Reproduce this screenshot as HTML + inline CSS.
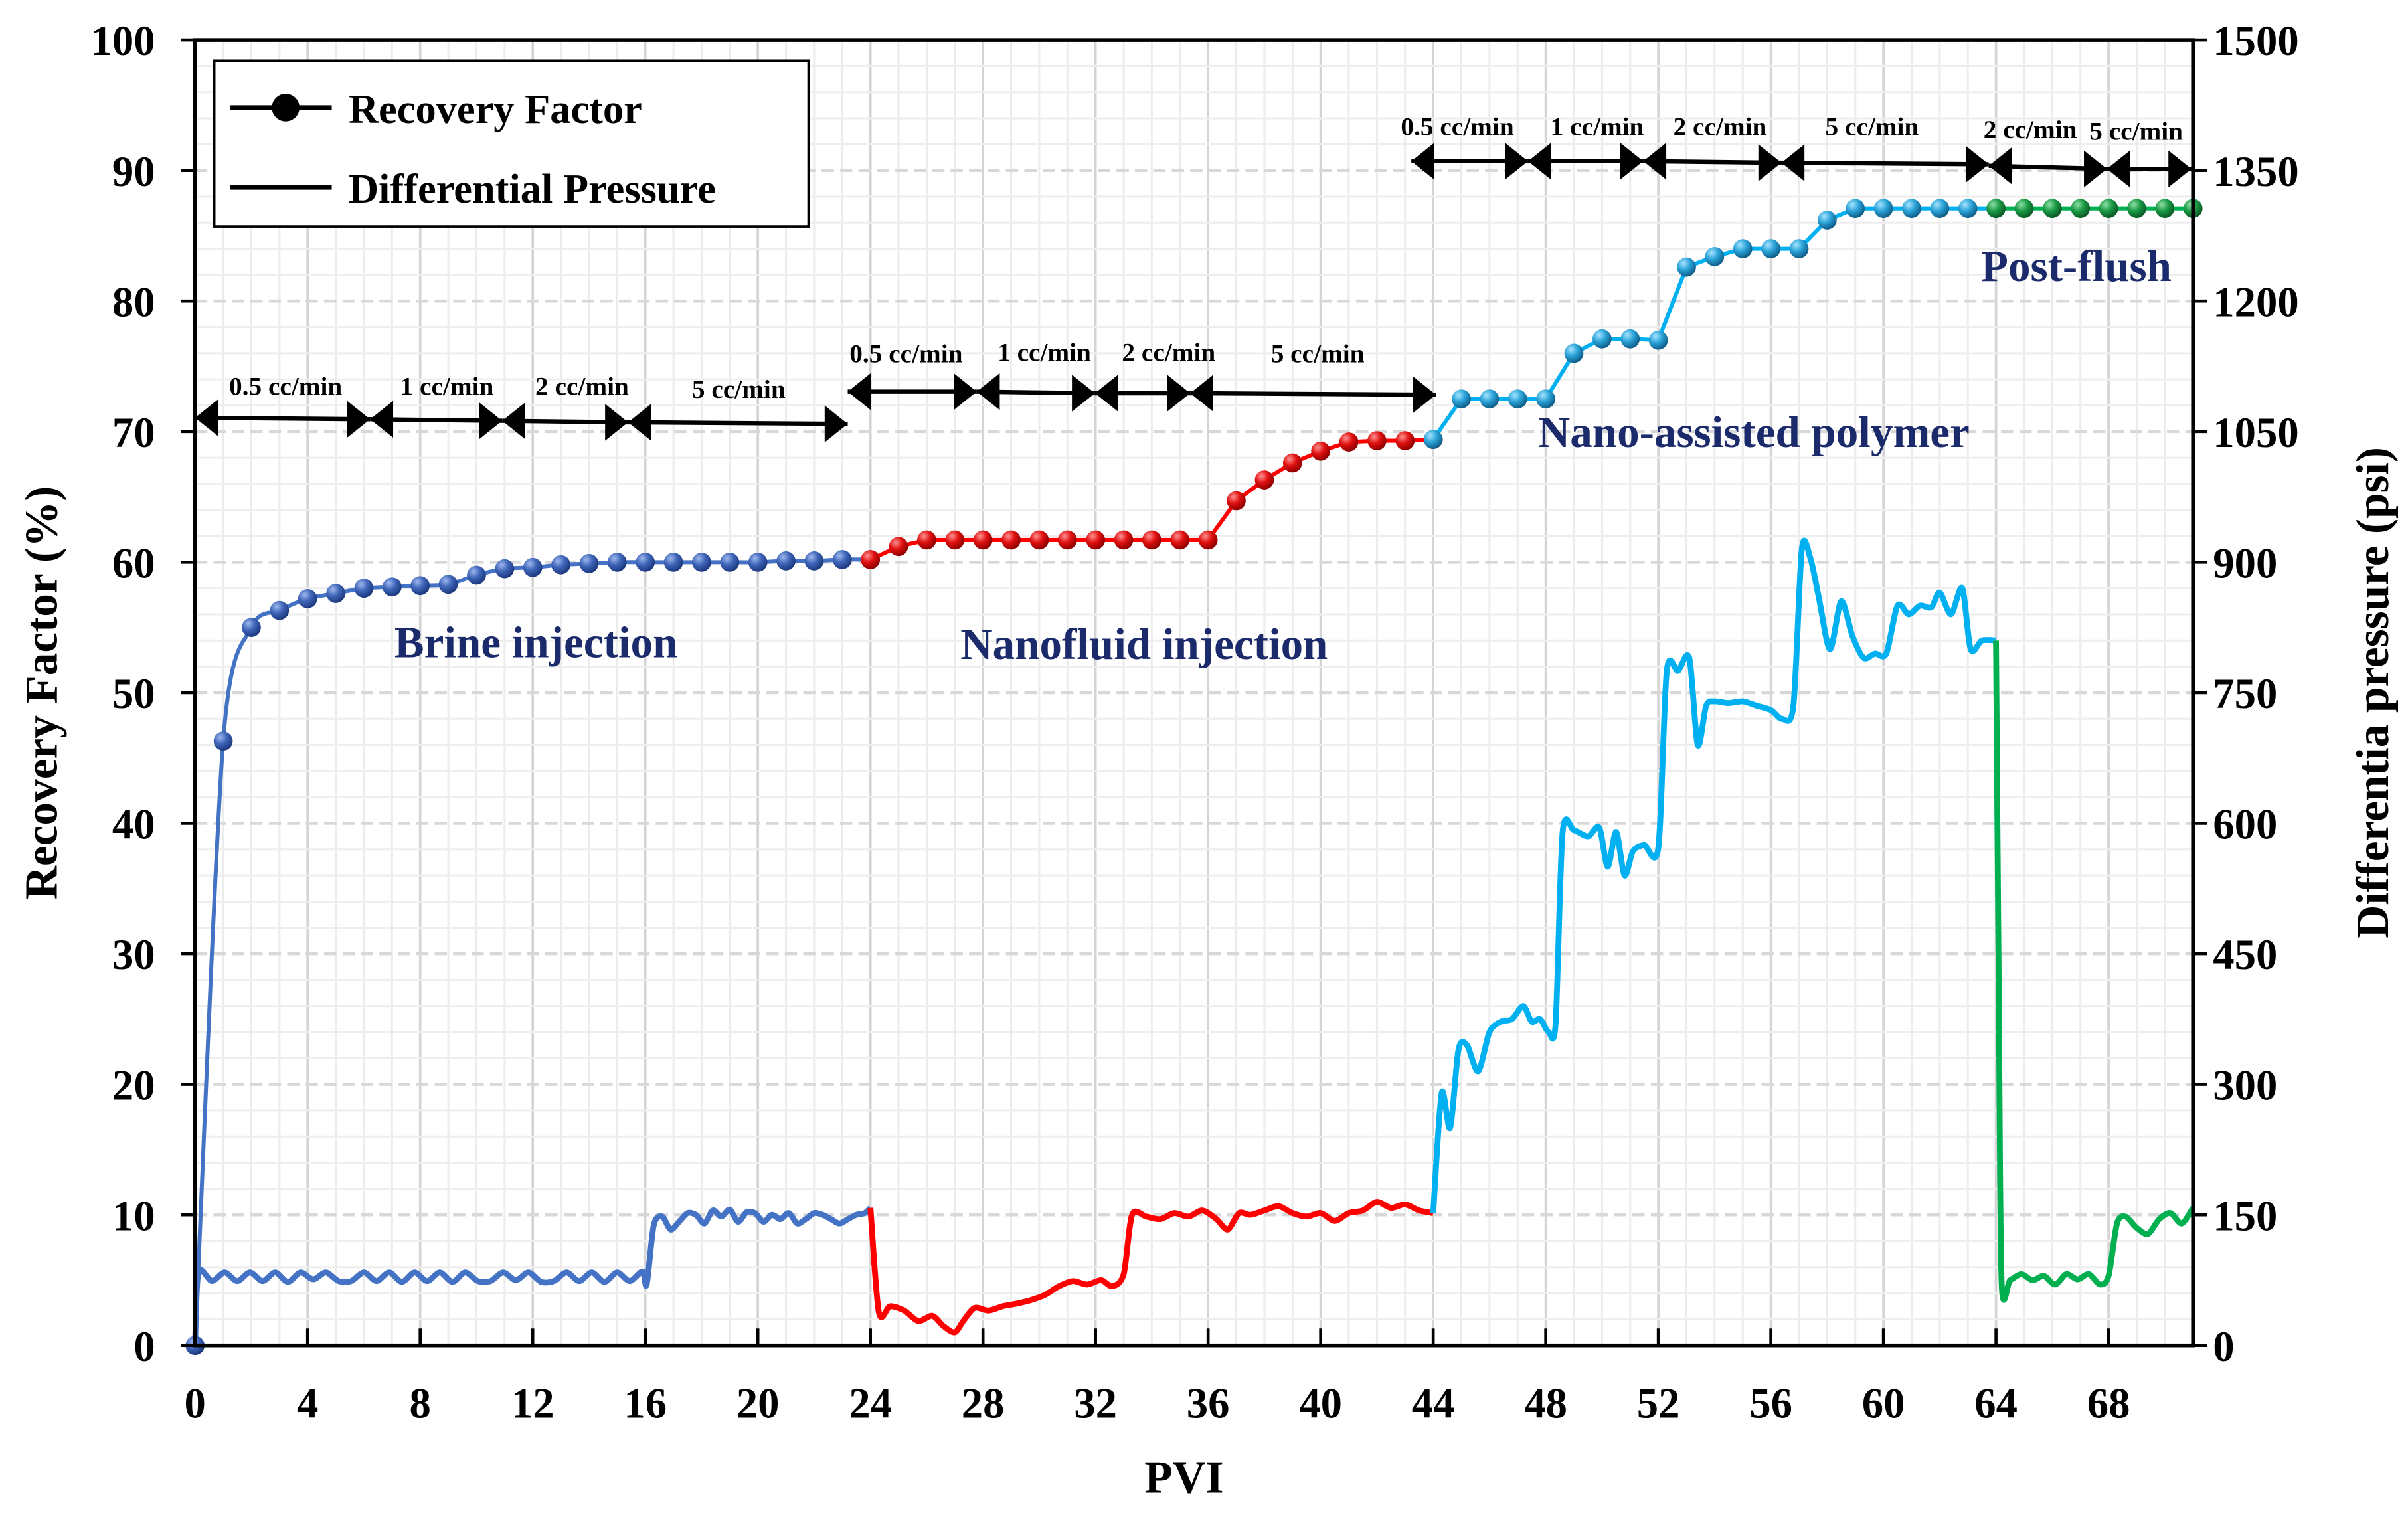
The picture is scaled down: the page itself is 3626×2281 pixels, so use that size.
<!DOCTYPE html>
<html><head><meta charset="utf-8"><style>
html,body{margin:0;padding:0;background:#fff;}
svg{display:block;font-family:"Liberation Serif",serif;font-weight:bold;}
</style></head><body>
<svg id="chart" width="3626" height="2281" viewBox="0 0 1568 986.4" xmlns="http://www.w3.org/2000/svg">
<defs>
<radialGradient id="gBlue" cx="35%" cy="30%" r="70%"><stop offset="0" stop-color="#9db8ee"/><stop offset="0.5" stop-color="#3f64b8"/><stop offset="1" stop-color="#1d3a80"/></radialGradient>
<radialGradient id="gRed" cx="35%" cy="30%" r="70%"><stop offset="0" stop-color="#ff9090"/><stop offset="0.5" stop-color="#e01010"/><stop offset="1" stop-color="#900000"/></radialGradient>
<radialGradient id="gCyan" cx="35%" cy="30%" r="70%"><stop offset="0" stop-color="#a6e4ff"/><stop offset="0.5" stop-color="#2aa3d8"/><stop offset="1" stop-color="#0f5f8a"/></radialGradient>
<radialGradient id="gGreen" cx="35%" cy="30%" r="70%"><stop offset="0" stop-color="#8fe0a5"/><stop offset="0.5" stop-color="#1a9a45"/><stop offset="1" stop-color="#0b5a25"/></radialGradient>
</defs>
<g id="grid"></g>
<g id="series"></g>
<g id="axes"></g>
<g id="annot"></g>
</svg>
<script>
// ---- data ----
const rfBrineX = [0,1,2,3,4,5,6,7,8,9,10,11,12,13,14,15,16,17,18,19,20,21,22,23,24];
const rfBrineY = [0,46.3,55,56.3,57.2,57.6,58,58.1,58.2,58.3,59,59.5,59.6,59.8,59.9,60,60,60,60,60,60,60.1,60.1,60.2,60.2];
const rfNanoX = [24,25,26,27,28,29,30,31,32,33,34,35,36,37,38,39,40,41,42,43,44];
const rfNanoY = [60.2,61.2,61.7,61.7,61.7,61.7,61.7,61.7,61.7,61.7,61.7,61.7,61.7,64.7,66.3,67.6,68.5,69.2,69.3,69.3,69.4];
const rfPolyX = [44,45,46,47,48,49,50,51,52,53,54,55,56,57,58,59,60,61,62,63,64];
const rfPolyY = [69.4,72.5,72.5,72.5,72.5,76,77.1,77.1,77,82.6,83.4,84,84,84,86.2,87.1,87.1,87.1,87.1,87.1,87.1];
const rfPostX = [64,65,66,67,68,69,70,71];
const rfPostY = [87.1,87.1,87.1,87.1,87.1,87.1,87.1,87.1];

const dpBrineX = [0,0.12,0.6,1.05,1.5,1.95,2.4,2.85,3.3,3.75,4.2,4.65,5.1,5.55,6,6.45,6.9,7.35,7.8,8.25,8.7,9.15,9.6,10.05,10.5,10.95,11.4,11.85,12.3,12.75,13.2,13.65,14.1,14.55,15,15.45,15.9,16.05,16.3,16.6,16.9,17.2,17.5,17.8,18.1,18.4,18.7,19,19.3,19.6,19.9,20.2,20.5,20.8,21.1,21.4,21.7,22,22.3,22.6,22.9,23.2,23.5,23.8,24];
const dpBrineY = [0,84,74,84,74,84,74,84,73,84,76,84,74,74,84,74,84,73,84,74,84,73,84,74,74,84,75,84,73,74,84,74,84,73,84,74,85,70,138,148,133,142,152,150,140,155,148,156,142,153,152,142,150,145,152,140,145,152,150,145,140,145,150,152,158];
const dpNanoX = [24,24.3,24.7,25.2,25.7,26.2,26.6,27,27.3,27.7,28.2,28.7,29.2,29.7,30.2,30.7,31.2,31.7,32.2,32.6,33,33.3,33.8,34.3,34.8,35.3,35.8,36.3,36.7,37.1,37.5,38,38.5,39,39.5,40,40.5,41,41.5,42,42.5,43,43.5,44];
const dpNanoY = [158,38,45,40,28,34,22,15,28,43,40,45,48,52,58,68,74,70,75,68,82,150,148,145,152,148,155,145,133,152,150,155,160,152,148,152,143,152,155,165,158,162,155,152];
const dpPolyX = [44,44.3,44.6,44.9,45.2,45.6,46,46.4,46.8,47.2,47.5,47.8,48.1,48.35,48.6,49,49.5,49.9,50.2,50.5,50.8,51.1,51.5,52,52.3,52.7,53.1,53.4,53.7,54,54.5,55,55.5,56,56.4,56.8,57.1,57.4,57.7,58.1,58.5,58.9,59.3,59.7,60.1,60.5,60.9,61.3,61.7,62,62.4,62.8,63.1,63.5,64];
const dpPolyY = [152,290,250,340,345,315,360,372,375,390,372,375,360,370,590,592,585,595,550,590,540,568,575,572,775,775,790,690,735,740,738,740,735,730,720,735,915,905,860,800,855,815,790,795,795,850,840,850,848,865,840,870,800,810,810];
const dpPostX = [64,64.1,64.2,64.5,64.9,65.3,65.7,66.1,66.5,66.9,67.3,67.7,68,68.3,68.6,69,69.4,69.8,70.2,70.6,71];
const dpPostY = [810,400,72,75,82,75,80,70,82,76,82,70,80,140,148,135,128,145,152,140,158];

const xTicks = [0,4,8,12,16,20,24,28,32,36,40,44,48,52,56,60,64,68];
const yLeftTicks = [0,10,20,30,40,50,60,70,80,90,100];
const yRightTicks = [0,150,300,450,600,750,900,1050,1200,1350,1500];

// ---- scales ----
const X0=127, X1=1428, Y0=876, Y1=26, XMAX=71;
const sx = v => X0 + v*(X1-X0)/XMAX;
const syL = v => Y0 - v*(Y0-Y1)/100;
const syR = v => Y0 - v*(Y0-Y1)/1500;
const NS="http://www.w3.org/2000/svg";
function mk(tag, attrs, parent){const e=document.createElementNS(NS,tag);for(const k in attrs)e.setAttribute(k,attrs[k]);parent.appendChild(e);return e;}
const grid=document.getElementById('grid'), series=document.getElementById('series'), axes=document.getElementById('axes'), annot=document.getElementById('annot');

for(let v=1; v<XMAX; v++){
  const major = v%4===0;
  const l=mk('line',{x1:sx(v),x2:sx(v),y1:Y1,y2:Y0,stroke:major?'#d4d4d4':'#ececec','stroke-width':major?1.6:1.3},grid);
  
  
}
for(let v=2; v<100; v+=2){
  const major = v%10===0;
  const l=mk('line',{x1:X0,x2:X1,y1:syL(v),y2:syL(v),stroke:major?'#d8d8d8':'#eeeeee','stroke-width':major?2:1.3,'stroke-dasharray':major?'8,4':''},grid);
  
  
}

function smooth(xs, ys, sy){
  const p=xs.map((x,i)=>[sx(x),sy(ys[i])]);
  let d=`M${p[0][0]},${p[0][1]}`;
  for(let i=0;i<p.length-1;i++){
    const a=p[Math.max(0,i-1)], b=p[i], c=p[i+1], e=p[Math.min(p.length-1,i+2)];
    const t=0.14;
    d+=` C${b[0]+(c[0]-a[0])*t},${b[1]+(c[1]-a[1])*t} ${c[0]-(e[0]-b[0])*t},${c[1]-(e[1]-b[1])*t} ${c[0]},${c[1]}`;
  }
  return d;
}
function dpLine(xs,ys,color,name){
  const p=mk('path',{d:smooth(xs,ys,syR),fill:'none',stroke:color,'stroke-width':3.8,'stroke-linejoin':'round'},series);
  
  
}
dpLine(dpBrineX,dpBrineY,'#4472c4','pressure-line-brine');
dpLine(dpNanoX,dpNanoY,'#ff0000','pressure-line-nanofluid');
dpLine(dpPolyX,dpPolyY,'#00b0f0','pressure-line-polymer');
dpLine(dpPostX,dpPostY,'#00b050','pressure-line-postflush');

function rfSeries(xs,ys,color,grad,name,smoothIt){
  const d = smoothIt ? smooth(xs,ys,syL) : 'M'+xs.map((x,i)=>sx(x)+','+syL(ys[i])).join(' L');
  const p=mk('path',{d:d,fill:'none',stroke:color,'stroke-width':2.6},series);
  
  
  xs.forEach((x,i)=>{
    const c=mk('circle',{cx:sx(x),cy:syL(ys[i]),r:6.2,fill:'url(#'+grad+')'},series);
    
    
  });
}
rfSeries(rfBrineX,rfBrineY,'#4472c4','gBlue','rf-brine',true);
rfSeries(rfNanoX,rfNanoY,'#ff0000','gRed','rf-nanofluid',false);
rfSeries(rfPolyX,rfPolyY,'#00b0f0','gCyan','rf-polymer',false);
rfSeries(rfPostX,rfPostY,'#00b050','gGreen','rf-postflush',false);

let fr=mk('rect',{x:X0,y:Y1,width:X1-X0,height:Y0-Y1,fill:'none',stroke:'#000','stroke-width':2.4},axes);


xTicks.forEach(v=>{
  const t=mk('line',{x1:sx(v),x2:sx(v),y1:Y0,y2:Y0-11,stroke:'#000','stroke-width':2},axes);
  
  
  const tx=mk('text',{x:sx(v),y:923,'text-anchor':'middle','font-size':28},axes);
  tx.textContent=v;
  
  
});
yLeftTicks.forEach(v=>{
  const t=mk('line',{x1:X0-9,x2:X0,y1:syL(v),y2:syL(v),stroke:'#000','stroke-width':2},axes);
  
  
  const tx=mk('text',{x:101,y:syL(v)+10,'text-anchor':'end','font-size':28},axes);
  tx.textContent=v;
  
  
});
yRightTicks.forEach(v=>{
  const t=mk('line',{x1:X1,x2:X1+9,y1:syR(v),y2:syR(v),stroke:'#000','stroke-width':2},axes);
  
  
  const tx=mk('text',{x:1441,y:syR(v)+10,'text-anchor':'start','font-size':28},axes);
  tx.textContent=v;
  
  
});
let t;
t=mk('text',{x:771,y:972,'text-anchor':'middle','font-size':30},axes);t.textContent='PVI';


t=mk('text',{x:0,y:0,'text-anchor':'middle','font-size':30,transform:'translate(37,451) rotate(-90)'},axes);t.textContent='Recovery Factor (%)';


t=mk('text',{x:0,y:0,'text-anchor':'middle','font-size':30,transform:'translate(1555,451) rotate(-90)'},axes);t.textContent='Differentia pressure (psi)';



const lg=mk('g',{},annot);


mk('rect',{x:139.5,y:39.5,width:387,height:108,fill:'#fff',stroke:'#000','stroke-width':1.6},lg);
mk('line',{x1:150,x2:216,y1:70,y2:70,stroke:'#000','stroke-width':3},lg);
mk('circle',{cx:186,cy:70,r:9,fill:'#000'},lg);
mk('line',{x1:150,x2:216,y1:122,y2:122,stroke:'#000','stroke-width':3},lg);
t=mk('text',{x:227,y:80,'font-size':27},lg);t.textContent='Recovery Factor';


t=mk('text',{x:227,y:132,'font-size':27},lg);t.textContent='Differential Pressure';



function phase(txt,x,y,name){const e=mk('text',{x:x,y:y,'text-anchor':'middle','font-size':29,fill:'#1b2a6b'},annot);e.textContent=txt;

}
phase('Brine injection',349,428,'label-brine-injection');
phase('Nanofluid injection',745,429,'label-nanofluid-injection');
phase('Nano-assisted polymer',1142,291,'label-nano-assisted-polymer');
phase('Post-flush',1352,183,'label-post-flush');

function arrow(xa,ya,xb,yb){
  const g=mk('g',{},annot);
  
  
  mk('line',{x1:xa,x2:xb,y1:ya,y2:yb,stroke:'#000','stroke-width':2.8},g);
  mk('polygon',{points:`${xa},${ya} ${xa+15},${ya-12} ${xa+15},${ya+12}`,fill:'#000'},g);
  mk('polygon',{points:`${xb},${yb} ${xb-15},${yb-12} ${xb-15},${yb+12}`,fill:'#000'},g);
}
function rate(txt,x,y){const e=mk('text',{x:x,y:y,'text-anchor':'middle','font-size':17},annot);e.textContent=txt;

}
arrow(127,272,241,273);arrow(241,273,327,274);arrow(327,274,409,275);arrow(409,275,552,276);
rate('0.5 cc/min',186,257);rate('1 cc/min',291,257);rate('2 cc/min',379,257);rate('5 cc/min',481,259);
arrow(552,255,636,255);arrow(636,255,713,256);arrow(713,256,775,256);arrow(775,256,935,257);
rate('0.5 cc/min',590,236);rate('1 cc/min',680,235);rate('2 cc/min',761,235);rate('5 cc/min',858,236);
arrow(919,105,995,105);arrow(995,105,1070,105);arrow(1070,105,1160,106);arrow(1160,106,1295,107);
arrow(1295,108,1372,110);arrow(1372,110,1427,110);
rate('0.5 cc/min',949,88);rate('1 cc/min',1040,88);rate('2 cc/min',1120,88);rate('5 cc/min',1219,88);
rate('2 cc/min',1322,90);rate('5 cc/min',1391,91);
</script>
</body></html>
